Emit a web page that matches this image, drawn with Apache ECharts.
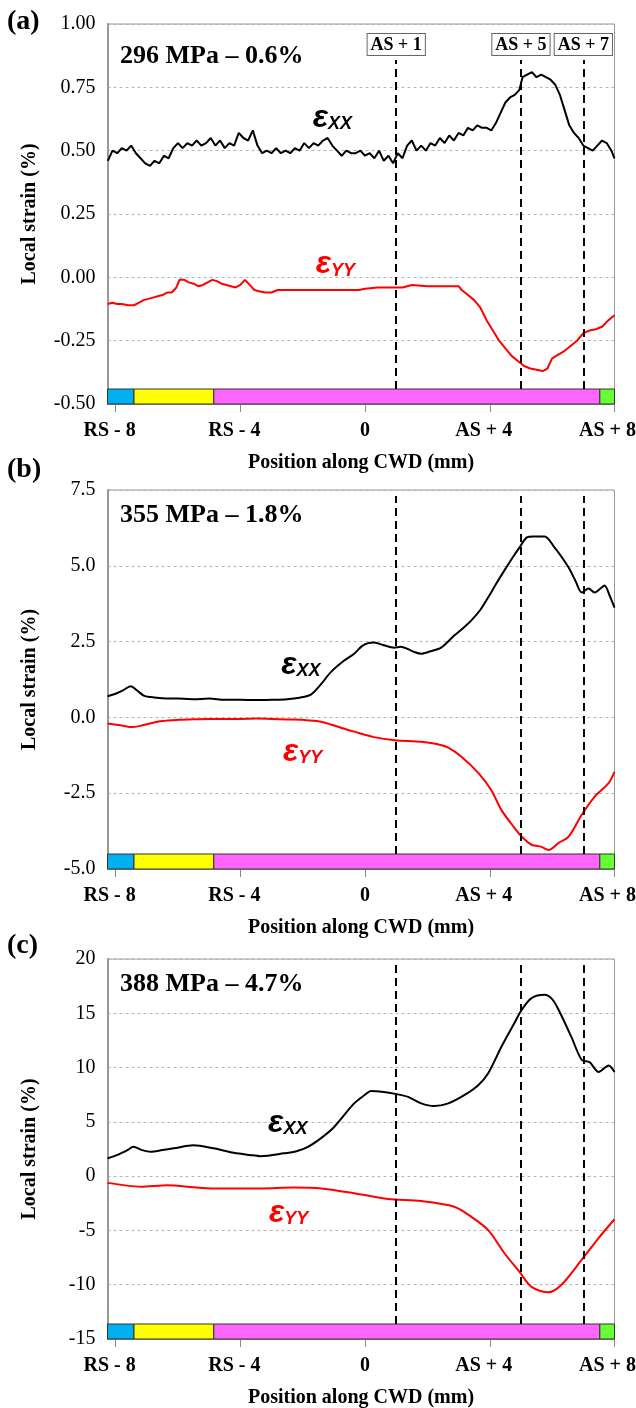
<!DOCTYPE html>
<html><head><meta charset="utf-8">
<script src="https://cdn.jsdelivr.net/npm/echarts@6/dist/echarts.min.js"></script>
<style>html,body{margin:0;padding:0;background:#fff}#c{width:636px;height:1408px}</style>
</head><body><div id="c"></div>
<script>
// ---------------- data ----------------
const xTickValues = [-8, -4, 0, 4, 8];
const xTickLabels = ['RS - 8', 'RS - 4', '0', 'AS + 4', 'AS + 8'];
const zoneEdges = [-8.26, -7.41, -4.85, 7.53, 8];
const zoneColors = ['#00B0F0', '#FFFF00', '#FF66FF', '#66FF33'];
const markerPositions = [1, 5, 7];
const markerLabels = ['AS + 1', 'AS + 5', 'AS + 7'];
const panelLabels = ['(a)', '(b)', '(c)'];
const panelTitles = ['296 MPa – 0.6%', '355 MPa – 1.8%', '388 MPa – 4.7%'];
const yMins = [-0.5, -5, -15];
const yMaxs = [1, 7.5, 20];
const yIntervals = [0.25, 2.5, 5];
const yDecimals = [2, 1, 0];

const exxA = [[-8.25,0.46],[-8.10,0.50],[-7.95,0.49],[-7.80,0.51],[-7.65,0.50],[-7.50,0.52],[-7.35,0.49],[-7.20,0.47],[-7.05,0.45],[-6.90,0.44],[-6.75,0.46],[-6.60,0.45],[-6.45,0.48],[-6.30,0.47],[-6.15,0.51],[-6.00,0.53],[-5.85,0.51],[-5.70,0.53],[-5.55,0.52],[-5.40,0.54],[-5.25,0.52],[-5.10,0.53],[-4.95,0.55],[-4.80,0.52],[-4.65,0.54],[-4.50,0.51],[-4.35,0.53],[-4.20,0.52],[-4.05,0.57],[-3.90,0.55],[-3.75,0.54],[-3.60,0.58],[-3.45,0.52],[-3.30,0.49],[-3.15,0.50],[-3.00,0.49],[-2.85,0.51],[-2.70,0.49],[-2.55,0.50],[-2.40,0.49],[-2.25,0.51],[-2.10,0.50],[-1.95,0.53],[-1.80,0.51],[-1.65,0.53],[-1.50,0.52],[-1.35,0.54],[-1.20,0.55],[-1.05,0.52],[-0.90,0.50],[-0.75,0.48],[-0.60,0.50],[-0.45,0.49],[-0.30,0.49],[-0.15,0.50],[0.00,0.48],[0.15,0.49],[0.30,0.47],[0.45,0.50],[0.60,0.46],[0.75,0.48],[0.90,0.45],[1.05,0.49],[1.20,0.47],[1.35,0.52],[1.50,0.54],[1.65,0.50],[1.80,0.52],[1.95,0.50],[2.10,0.53],[2.25,0.52],[2.40,0.55],[2.55,0.53],[2.70,0.56],[2.85,0.54],[3.00,0.57],[3.15,0.56],[3.30,0.59],[3.45,0.58],[3.60,0.60],[3.75,0.59],[3.90,0.59],[4.05,0.58],[4.20,0.61],[4.35,0.65],[4.50,0.69],[4.65,0.71],[4.80,0.72],[4.95,0.74],[5.05,0.79],[5.20,0.80],[5.35,0.81],[5.50,0.79],[5.65,0.80],[5.80,0.79],[5.95,0.78],[6.10,0.76],[6.25,0.72],[6.40,0.66],[6.55,0.60],[6.70,0.57],[6.85,0.55],[7.00,0.52],[7.15,0.51],[7.30,0.50],[7.45,0.52],[7.60,0.54],[7.75,0.53],[7.90,0.50],[8.00,0.47]];
const eyyA = [[-8.25,-0.105],[-8.10,-0.10],[-7.95,-0.105],[-7.80,-0.105],[-7.60,-0.11],[-7.40,-0.11],[-7.25,-0.10],[-7.10,-0.09],[-6.95,-0.085],[-6.80,-0.08],[-6.65,-0.075],[-6.50,-0.07],[-6.35,-0.06],[-6.20,-0.06],[-6.05,-0.04],[-5.95,-0.01],[-5.80,-0.01],[-5.65,-0.02],[-5.50,-0.025],[-5.35,-0.035],[-5.20,-0.03],[-5.05,-0.02],[-4.90,-0.01],[-4.75,-0.015],[-4.60,-0.025],[-4.45,-0.03],[-4.30,-0.035],[-4.15,-0.04],[-4.00,-0.03],[-3.85,-0.01],[-3.70,-0.03],[-3.55,-0.05],[-3.40,-0.055],[-3.20,-0.06],[-3.00,-0.06],[-2.80,-0.05],[-2.60,-0.05],[-2.40,-0.05],[-2.00,-0.05],[-1.50,-0.05],[-1.00,-0.05],[-0.50,-0.05],[-0.20,-0.05],[0.00,-0.045],[0.40,-0.04],[0.80,-0.04],[1.20,-0.04],[1.50,-0.03],[2.00,-0.035],[2.50,-0.035],[3.00,-0.035],[3.10,-0.05],[3.30,-0.07],[3.50,-0.09],[3.70,-0.12],[3.90,-0.17],[4.10,-0.21],[4.30,-0.25],[4.50,-0.28],[4.70,-0.31],[4.90,-0.33],[5.10,-0.35],[5.30,-0.36],[5.50,-0.365],[5.70,-0.37],[5.85,-0.36],[6.00,-0.32],[6.20,-0.305],[6.40,-0.29],[6.60,-0.27],[6.80,-0.25],[7.00,-0.22],[7.20,-0.21],[7.40,-0.205],[7.60,-0.195],[7.80,-0.17],[8.00,-0.15]];

const exxB = [[-8.26,0.70],[-8.00,0.78],[-7.75,0.90],[-7.52,1.03],[-7.30,0.88],[-7.10,0.72],[-6.88,0.67],[-6.50,0.63],[-6.00,0.62],[-5.50,0.60],[-5.00,0.62],[-4.50,0.58],[-4.00,0.58],[-3.50,0.57],[-3.00,0.58],[-2.50,0.60],[-2.10,0.65],[-1.74,0.75],[-1.41,1.10],[-1.09,1.50],[-0.70,1.85],[-0.35,2.10],[-0.10,2.35],[0.10,2.45],[0.29,2.47],[0.60,2.38],[0.93,2.30],[1.15,2.33],[1.38,2.25],[1.60,2.15],[1.80,2.10],[2.10,2.18],[2.44,2.30],[2.86,2.70],[3.15,2.95],[3.41,3.20],[3.70,3.55],[3.95,3.96],[4.20,4.40],[4.47,4.85],[4.75,5.30],[4.95,5.60],[5.18,5.93],[5.40,5.97],[5.76,5.97],[6.08,5.60],[6.30,5.30],[6.53,4.94],[6.75,4.50],[6.95,4.12],[7.17,4.25],[7.36,4.12],[7.55,4.25],[7.68,4.35],[7.85,4.00],[8.00,3.62]];
const eyyB = [[-8.26,-0.20],[-7.90,-0.25],[-7.50,-0.32],[-7.20,-0.28],[-6.90,-0.20],[-6.50,-0.12],[-6.00,-0.08],[-5.50,-0.06],[-5.00,-0.05],[-4.50,-0.05],[-4.00,-0.05],[-3.50,-0.04],[-3.00,-0.05],[-2.50,-0.07],[-2.00,-0.08],[-1.41,-0.14],[-0.87,-0.31],[-0.35,-0.47],[0.29,-0.65],[0.96,-0.75],[1.80,-0.80],[2.30,-0.88],[2.67,-1.00],[3.09,-1.30],[3.63,-1.83],[4.05,-2.40],[4.37,-3.05],[4.76,-3.60],[5.02,-3.93],[5.34,-4.20],[5.66,-4.27],[5.88,-4.37],[6.21,-4.14],[6.53,-3.93],[6.95,-3.21],[7.36,-2.62],[7.81,-2.17],[8.00,-1.80]];

const exxC = [[-8.26,1.63],[-7.90,2.00],[-7.62,2.39],[-7.43,2.70],[-7.15,2.40],[-6.88,2.24],[-6.50,2.40],[-6.14,2.56],[-5.50,2.85],[-4.86,2.56],[-4.21,2.15],[-3.70,1.95],[-3.34,1.84],[-2.60,2.10],[-2.20,2.30],[-1.83,2.70],[-1.41,3.50],[-1.00,4.50],[-0.35,6.70],[0.00,7.50],[0.19,7.85],[0.60,7.75],[0.93,7.60],[1.38,7.30],[1.80,6.70],[2.22,6.45],[2.67,6.70],[3.18,7.46],[3.63,8.38],[3.95,9.48],[4.37,11.90],[4.79,14.10],[5.02,15.30],[5.34,16.40],[5.76,16.70],[6.00,16.30],[6.21,15.30],[6.62,12.80],[6.95,10.70],[7.20,10.50],[7.49,9.60],[7.81,10.20],[8.00,9.60]];
const eyyC = [[-8.26,-0.62],[-7.70,-0.85],[-7.20,-0.98],[-6.33,-0.83],[-5.60,-1.00],[-4.86,-1.14],[-3.34,-1.14],[-2.30,-1.05],[-1.41,-1.13],[-0.35,-1.57],[0.74,-2.10],[1.80,-2.30],[2.86,-2.82],[3.41,-3.75],[3.95,-4.97],[4.47,-7.10],[4.95,-8.80],[5.34,-10.20],[5.88,-10.70],[6.30,-10.00],[6.95,-7.70],[7.49,-5.70],[8.00,-3.97]];

const exxData = [exxA, exxB, exxC];
const eyyData = [eyyA, eyyB, eyyC];

// ---------------- layout / style ----------------
const SERIF = 'Liberation Serif';
const SANS = 'Liberation Sans';
const L = {left: 107.5, width: 507, tops: [24, 490, 959], heights: [380, 379, 380], barPx: 15, markTopPx: [36, 6, 4]};
const epsAnchor = [
  {xx: [-1.05, 0.63], yy: [-0.95, 0.05]},
  {xx: [-2.06, 1.72], yy: [-2.0, -1.14]},
  {xx: [-2.48, 4.9], yy: [-2.45, -3.4]}
];
const titlePos = [
  {lab: [7, 8], txt: [120, 43]},
  {lab: [7, 456], txt: [120, 502]},
  {lab: [7, 932], txt: [120, 971]}
];

const grids = [], xAxes = [], yAxes = [], series = [], titles = [];

function epsLabel(sub, color) {
  return {
    show: true, position: 'inside',
    formatter: '{e|ε}{s|' + sub + '}',
    rich: {
      e: {fontFamily: SANS, fontWeight: 'bold', fontStyle: 'italic', fontSize: 32, color: color},
      s: {fontFamily: SANS, fontWeight: 'bold', fontStyle: 'italic', fontSize: 18, color: color, padding: [12, 0, 0, 0]}
    }
  };
}

const tickRich = {
  p: {fontFamily: SERIF, fontWeight: 'bold', fontSize: 20, color: '#000', padding: [0, 12, 0, 0]},
  q: {fontFamily: SERIF, fontWeight: 'bold', fontSize: 20, color: '#000', padding: [0, 14, 0, 0]}
};

for (let i = 0; i < 3; i++) {
  const yMin = yMins[i], yMax = yMaxs[i];
  const range = yMax - yMin;
  const pxToData = range / L.heights[i];
  grids.push({left: L.left, top: L.tops[i], width: L.width, height: L.heights[i], show: true,
    borderColor: '#999', borderWidth: 1, containLabel: false, outerBoundsMode: 'none'});
  xAxes.push({
    type: 'value', gridIndex: i, min: zoneEdges[0], max: zoneEdges[zoneEdges.length - 1],
    axisLine: {show: true, onZero: false, lineStyle: {color: '#999', width: 1}},
    axisTick: {show: true, customValues: xTickValues, length: 8, lineStyle: {color: '#888', width: 1}},
    axisLabel: {show: true, customValues: xTickValues, margin: 17, fontFamily: SERIF, fontWeight: 'bold', fontSize: 20, color: '#000',
      rich: tickRich,
      formatter: v => {
        const k = xTickValues.indexOf(Math.round(v));
        const t = xTickLabels[k];
        if (t === '0') return t;
        return (k === xTickValues.length - 1 ? '{q|' : '{p|') + t + '}';
      }},
    splitLine: {show: false},
    name: 'Position along CWD (mm)', nameLocation: 'middle', nameGap: 49,
    nameTextStyle: {fontFamily: SERIF, fontWeight: 'bold', fontSize: 20, color: '#000'}
  });
  yAxes.push({
    type: 'value', gridIndex: i, min: yMin, max: yMax, interval: yIntervals[i],
    axisLine: {show: true, onZero: false, lineStyle: {color: '#999', width: 2}},
    axisTick: {show: false},
    axisLabel: {margin: 12, fontFamily: SERIF, fontSize: 20, color: '#000', formatter: v => v.toFixed(yDecimals[i])},
    splitLine: {show: true, lineStyle: {color: '#b5b5b5', type: [3, 3], width: 1}},
    name: 'Local strain (%)', nameLocation: 'middle', nameGap: 68,
    nameTextStyle: {fontFamily: SERIF, fontWeight: 'bold', fontSize: 20, color: '#000'}
  });

  const yLow = yMin + L.barPx * pxToData;
  const yHigh = yMax - L.markTopPx[i] * pxToData;

  series.push({
    type: 'line', xAxisIndex: i, yAxisIndex: i, data: exxData[i], showSymbol: false, smooth: i > 0 ? 0.3 : false,
    lineStyle: {color: '#000', width: 2}, z: 3, animation: false,
    markLine: {
      silent: true, symbol: ['none', 'none'], animation: false,
      lineStyle: {color: '#000', type: [8, 5], width: 2},
      label: {
        show: i === 0, position: 'end', distance: 5,
        formatter: p => markerLabels[p.dataIndex],
        fontFamily: SERIF, fontWeight: 'bold', fontSize: 18, color: '#000',
        backgroundColor: '#fff', borderColor: '#666', borderWidth: 1, padding: [2, 3, 1, 3]
      },
      data: markerPositions.map(x => [{coord: [x, yLow]}, {coord: [x, yHigh]}])
    },
    markPoint: {
      silent: true, symbol: 'circle', symbolSize: 1, itemStyle: {color: 'rgba(0,0,0,0)'}, animation: false,
      label: epsLabel('XX', '#000'),
      data: [{coord: epsAnchor[i].xx}]
    }
  });
  series.push({
    type: 'line', xAxisIndex: i, yAxisIndex: i, data: eyyData[i], showSymbol: false, smooth: i > 0 ? 0.3 : false,
    lineStyle: {color: '#ff0000', width: 2}, z: 3, animation: false,
    markPoint: {
      silent: true, symbol: 'circle', symbolSize: 1, itemStyle: {color: 'rgba(0,0,0,0)'}, animation: false,
      label: epsLabel('YY', '#ff0000'),
      data: [{coord: epsAnchor[i].yy}]
    }
  });
  const zones = zoneColors.map((c, k) => [zoneEdges[k], zoneEdges[k + 1], k]);
  series.push({
    type: 'custom', xAxisIndex: i, yAxisIndex: i, data: zones, z: 4, animation: false, silent: true,
    renderItem: (params, api) => {
      const p0 = api.coord([api.value(0), yMin]);
      const p1 = api.coord([api.value(1), yLow]);
      return {type: 'rect', shape: {x: p0[0], y: p1[1], width: p1[0] - p0[0], height: p0[1] - p1[1]},
        style: {fill: zoneColors[api.value(2)], stroke: '#333', lineWidth: 1}};
    }
  });

  titles.push({text: panelLabels[i], left: titlePos[i].lab[0], top: titlePos[i].lab[1], padding: 0,
    textStyle: {fontFamily: SERIF, fontWeight: 'bold', fontSize: 28, color: '#000'}});
  titles.push({text: panelTitles[i], left: titlePos[i].txt[0], top: titlePos[i].txt[1], padding: 0,
    textStyle: {fontFamily: SERIF, fontWeight: 'bold', fontSize: 26, color: '#000'}});
}

const chart = echarts.init(document.getElementById('c'), null, {renderer: 'canvas'});
chart.setOption({
  animation: false,
  backgroundColor: '#fff',
  title: titles,
  grid: grids, xAxis: xAxes, yAxis: yAxes, series: series
});
</script>
</body></html>
